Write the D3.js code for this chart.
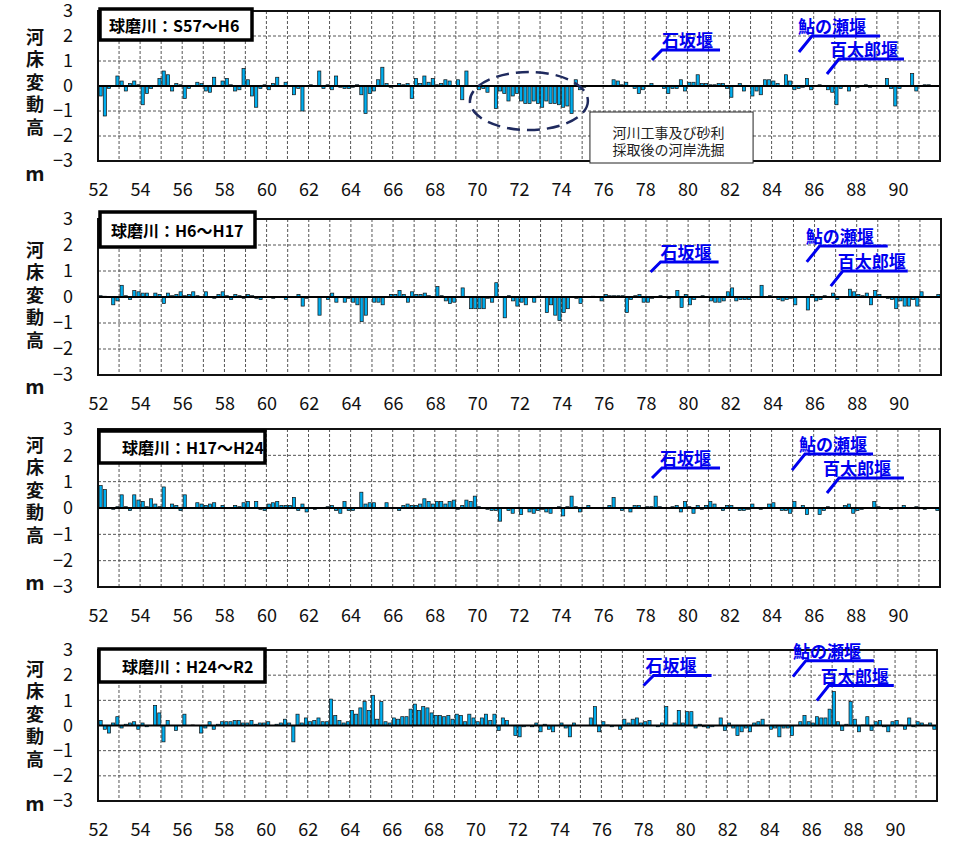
<!DOCTYPE html>
<html>
<head>
<meta charset="utf-8">
<script src="https://cdn.jsdelivr.net/npm/d3@7"></script>
<style>
  body { margin: 0; background: #fff; }
  svg { display: block; }
</style>
</head>
<body>
<svg id="chart" width="955" height="843"></svg>
<script>
// stations every 0.2 km, 52.0 .. 91.8 km
const stations = d3.range(200).map(i => +(52 + i * 0.2).toFixed(1))
const xTicks = [52, 54, 56, 58, 60, 62, 64, 66, 68, 70, 72, 74, 76, 78, 80, 82, 84, 86, 88, 90]
const yTicks = [-3, -2, -1, 0, 1, 2, 3]
const periods = ["球磨川：S57～H6", "球磨川：H6～H17", "球磨川：H17～H24", "球磨川：H24～R2"]
const yTitle = ["河", "床", "変", "動", "高"]

// bed change (m)
const s57h6 = [
  -0.4, -1.2, -0.1, 0, 0.4, 0.2, -0.2, 0.1, 0.2, 0.05,
  -0.75, -0.3, -0.1, 0, 0.3, 0.6, 0.45, -0.2, 0.1, 0.05,
  -0.5, -0.1, 0, 0.15, 0.1, -0.2, -0.25, 0.35, 0, 0.2,
  0.3, 0.05, -0.2, -0.15, 0.7, 0.25, -0.4, -0.85, -0.1, 0.05,
  -0.15, 0.1, 0.35, 0, 0.15, 0, -0.35, -0.1, -1.0, 0,
  0.05, 0, 0.6, -0.1, 0.05, -0.15, 0.4, -0.05, -0.1, -0.1,
  -0.05, 0.05, -0.35, -1.1, -0.3, -0.2, 0.25, 0.75, 0.1, -0.05,
  0, 0.1, 0.05, 0.1, -0.5, 0.3, 0.1, 0.4, 0.15, 0.3,
  0.05, 0.1, 0.25, 0.2, 0, 0.25, -0.55, 0.6, 0, 0,
  -0.15, -0.1, -0.25, 0, -0.9, -0.2, -0.3, -0.6, -0.4, -0.3,
  -0.6, -0.7, -0.7, -0.6, -0.7, -0.85, -0.6, -0.7, -0.7, -0.75,
  -0.85, -0.8, -1.1, 0.25, -0.15, -0.05, 0, 0, 0, 0,
  0, 0, 0.25, 0.2, 0.05, 0.15, 0, -0.1, -0.3, -0.15,
  0, 0.1, 0, 0, -0.1, -0.3, -0.1, -0.1, 0.25, -0.2,
  0.15, 0.15, 0.45, 0.1, 0.1, 0.05, 0.05, 0.1, 0.1, -0.1,
  -0.45, 0, 0.1, -0.2, 0, -0.4, -0.2, -0.35, 0.25, 0.25,
  0.2, 0.1, 0, 0.45, 0.2, -0.15, -0.1, -0.05, 0.3, -0.15,
  0, 0.05, 0, -0.15, -0.25, -0.75, -0.1, 0, -0.2, 0,
  -0.05, 0, 0.05, -0.05, 0, 0, 0, 0.3, -0.1, -0.8,
  -0.1, 0, 0, 0.5, -0.2, 0, 0.05, 0.05, 0, 0
]
const h6h17 = [
  0.05, 0.03, 0, -0.3, -0.15, 0.45, 0.05, -0.1, 0.25, 0.2,
  0.15, 0.15, 0, 0.15, 0.1, -0.25, 0.15, 0.05, 0.1, 0.2,
  0.05, 0.1, 0.2, 0.05, 0, 0.2, 0, -0.05, 0.1, 0.2,
  0.05, -0.1, 0.1, 0.05, -0.05, 0.1, 0.05, -0.05, -0.1, 0,
  0.02, -0.05, 0, 0, -0.1, 0, 0, 0.1, -0.35, -0.05,
  0, 0, -0.7, 0, -0.1, 0.15, -0.2, 0, -0.2, -0.05,
  -0.2, -0.3, -0.95, -0.7, 0, -0.2, -0.2, -0.3, 0, 0.1,
  0.1, 0.25, 0.1, -0.2, 0.2, 0.1, 0.1, 0.15, 0.05, 0,
  0.4, 0.05, -0.15, -0.25, -0.2, 0, 0.35, 0, -0.45, -0.45,
  -0.45, -0.45, -0.05, -0.2, 0.55, 0, -0.8, 0.05, -0.15, -0.35,
  -0.2, -0.3, 0, -0.2, 0.03, 0, -0.6, -0.3, -0.7, -0.9,
  -0.6, -0.45, 0, -0.05, -0.25, 0, 0, 0.03, 0, -0.15,
  0.1, 0.05, 0.05, 0.05, 0.05, -0.6, -0.1, 0.05, 0.1, -0.2,
  -0.2, -0.05, 0, 0.05, 0, -0.05, 0, 0.25, -0.4, 0.1,
  -0.3, -0.1, 0, 0.05, 0, -0.15, -0.2, -0.2, -0.15, 0.2,
  0.35, -0.15, -0.1, -0.1, -0.1, 0, 0, 0.45, 0, 0.05,
  0, -0.1, -0.15, -0.1, -0.05, -0.3, 0, 0, -0.5, 0.1,
  -0.15, -0.1, 0.05, 0, 0.15, -0.1, 0, 0, 0.3, 0.2,
  0.1, 0.05, 0.15, -0.3, 0.25, 0.1, -0.02, -0.05, -0.1, -0.45,
  -0.15, -0.35, -0.35, -0.1, -0.35, 0.2, 0, 0.02, 0, 0.1
]
const h17h24 = [
  0.85, 0.7, 0, -0.05, 0.05, 0.5, 0.05, -0.1, 0.5, 0.3,
  0.25, 0.05, 0.35, 0.15, 0.05, 0.8, 0, 0.15, 0.1, -0.1,
  0.5, 0, 0.02, 0.2, 0.15, 0.1, 0.15, 0.2, 0, 0.1,
  0, 0.02, 0.1, 0.05, 0.2, 0.25, -0.02, 0.25, -0.05, -0.1,
  0.15, 0.2, 0.25, 0.1, 0.1, 0.1, 0.4, -0.1, 0.15, -0.15,
  0, -0.05, 0, -0.02, 0.05, 0.1, -0.1, -0.2, 0.25, -0.1,
  -0.1, 0, 0.6, 0.15, 0.2, 0.2, 0, 0.02, 0.2, 0,
  0, -0.1, 0.1, 0.15, 0.1, 0.1, 0.15, 0.35, 0.25, 0.15,
  0.25, 0.25, 0.15, 0.25, 0.3, -0.05, 0.1, 0.3, 0.25, 0.45,
  0.05, 0, -0.05, -0.1, -0.1, -0.5, 0, -0.1, -0.2, 0.02,
  -0.25, 0.02, -0.15, -0.2, -0.1, -0.05, -0.15, -0.2, 0, 0.05,
  -0.3, 0.05, 0.45, 0.05, -0.15, 0, 0.1, 0.02, 0.02, 0,
  0.02, 0.1, 0.4, 0, -0.1, 0, -0.15, 0.1, 0.1, 0,
  0.05, 0.05, 0.45, 0.05, 0.02, 0, 0.05, 0.1, -0.15, 0.25,
  0.05, -0.2, 0.1, -0.05, 0.1, 0.25, 0.15, 0, -0.1, 0.1,
  0.1, 0, -0.1, -0.1, -0.05, 0.15, 0, -0.05, 0, 0.15,
  0.2, 0, -0.1, -0.1, -0.2, 0.25, 0, 0.1, -0.25, 0,
  0, -0.25, -0.1, 0.05, 0, 0, 0, 0.1, 0.15, -0.2,
  -0.1, -0.05, 0, 0.02, 0.25, 0.05, 0, 0, -0.05, 0,
  0, 0.1, 0, 0, 0.05, 0, -0.05, 0, 0.02, -0.1
]
const h24r2 = [
  0.2, -0.15, -0.3, 0.1, 0.35, -0.1, 0.05, 0.1, 0.15, -0.15,
  0.1, -0.05, 0, 0.8, 0.5, -0.65, 0.2, 0, -0.2, 0,
  0.45, 0, 0.02, 0, -0.3, -0.1, 0.15, -0.15, 0.05, 0.15,
  0.15, 0.15, 0.2, 0.2, 0.1, 0.1, 0.2, 0.05, 0.1, 0.1,
  0.15, 0, 0.05, 0.1, 0.25, 0.1, -0.65, 0.45, 0.1, 0.3,
  0.15, 0.2, 0.3, 0.15, 0.15, 1.05, 0.4, 0.2, 0.1, 0.15,
  0.6, 0.45, 0.7, 0.95, 0.6, 1.2, 0.25, 0.95, 0.15, 0.1,
  0.3, 0.25, 0.35, 0.35, 0.65, 0.85, 0.6, 0.75, 0.7, 0.5,
  0.4, 0.4, 0.35, 0.4, 0.25, 0.45, 0.4, 0.15, 0.45, 0.3,
  0.15, 0.3, 0.45, 0.2, 0.45, -0.2, 0.3, 0.2, 0, -0.4,
  -0.45, -0.05, 0, -0.05, 0.1, -0.25, 0.05, -0.15, -0.25, 0,
  0.1, -0.1, -0.45, 0.1, 0, 0, 0, 0.3, 0.75, -0.25,
  0.15, 0.02, -0.05, 0, -0.15, 0.25, 0.1, 0.25, 0.3, 0.1,
  0.15, 0.2, 0, -0.05, 0.1, 0.75, 0, 0.1, 0.6, 0.1,
  0.55, 0.55, -0.1, 0.05, -0.05, -0.1, -0.05, 0, 0.3, -0.2,
  0.1, -0.1, -0.4, -0.25, -0.1, -0.25, 0.1, 0.15, 0.25, 0,
  -0.15, -0.1, -0.45, -0.1, -0.1, -0.4, 0, 0.15, 0.4, 0.15,
  0.1, 0.35, 0.3, 0.3, 0.65, 1.35, 0.15, -0.2, 0.05, 0.95,
  0.25, -0.25, 0.02, 0.35, -0.2, 0.15, 0.2, -0.05, -0.25, 0.15,
  0.2, 0.02, -0.15, 0.3, -0.05, 0.15, 0.1, 0.02, 0.1, -0.15
]
const series = [s57h6, h6h17, h17h24, h24r2]

// weir labels: anchor of the leader line foot in (km, m) for each period
const weirs = ["石坂堰", "鮎の瀬堰", "百太郎堰"]
const weirKm = [[78.32, 85.30, 86.63], [78.22, 85.63, 86.77], [78.32, 84.97, 86.63], [78.01, 85.13, 86.27]]
const weirM = [[1.04, 1.36, 0.48], [0.96, 1.35, 0.42], [1.14, 1.44, 0.57], [1.59, 1.94, 0.99]]

// note in the first panel
const noteLines = ["河川工事及び砂利", "採取後の河岸洗掘"]
const noteKm = [75.37, 83.12]
const noteM = [-1.04, -3.08]
const ellipseKm = 72.47, ellipseM = -0.6

const font = "'Noto Sans CJK JP', 'Noto Sans', sans-serif"
const blue = "#0000f0"
const barColor = "#00aeef"

// panel layout (px)
const panels = [
  {top: 11,  bottom: 161, right: 940, box: [100, 252, 9, 40],    tx: 109, yt: 36,  my: 172, textDx: [10, -1, 3]},
  {top: 219, bottom: 375, right: 941, box: [100, 255, 212, 247], tx: 111, yt: 249, my: 385, textDx: [10, -1, 7]},
  {top: 429, bottom: 587, right: 940, box: [99, 265, 431, 463],  tx: 122, yt: 444, my: 581, textDx: [8, 7, -4]},
  {top: 650, bottom: 801, right: 937, box: [99, 265, 649, 682],  tx: 122, yt: 668, my: 802, textDx: [2, 0, 4]}
]
const left = 98
// leader shape per weir: [dx, dy, underline length]
const leader = [[10, -10, 58], [13, -16, 68], [12, -15, 65]]

const svg = d3.select("#chart")

panels.forEach((p, k) => {
  const g = svg.append("g")
  const x = d3.scaleLinear().domain([52, 92]).range([left, p.right])
  const xb = d3.scaleBand().domain(stations).range([left, p.right]).padding(0.25)
  const y = d3.scaleLinear().domain([-3, 3]).range([p.bottom, p.top])

  // grid
  g.append("g").selectAll("line")
    .data(d3.range(53, 92))
    .join("line")
      .attr("x1", d => x(d)).attr("x2", d => x(d))
      .attr("y1", p.top).attr("y2", p.bottom)
      .attr("stroke", "#555").attr("stroke-width", 1)
      .attr("stroke-dasharray", "3,2")
  g.append("g").selectAll("line")
    .data([-2, -1, 1, 2])
    .join("line")
      .attr("x1", left).attr("x2", p.right)
      .attr("y1", d => y(d)).attr("y2", d => y(d))
      .attr("stroke", "#555").attr("stroke-width", 1)
      .attr("stroke-dasharray", "3,2")

  // bars
  g.append("g").selectAll("rect")
    .data(series[k])
    .join("rect")
      .attr("x", (d, i) => xb(stations[i]))
      .attr("width", xb.bandwidth())
      .attr("y", d => y(Math.max(0, d)))
      .attr("height", d => Math.abs(y(d) - y(0)))
      .attr("fill", barColor)
      .attr("stroke", "#111")
      .attr("stroke-width", 0.7)

  // zero line + frame
  g.append("line")
    .attr("x1", left).attr("x2", p.right)
    .attr("y1", y(0)).attr("y2", y(0))
    .attr("stroke", "#000").attr("stroke-width", 2)
  g.append("rect")
    .attr("x", left).attr("y", p.top)
    .attr("width", p.right - left).attr("height", p.bottom - p.top)
    .attr("fill", "none").attr("stroke", "#111").attr("stroke-width", 2)

  // axes (labels only)
  const xAxis = g.append("g")
    .attr("transform", "translate(0," + p.bottom + ")")
    .call(d3.axisBottom(x).tickValues(xTicks).tickSize(0).tickPadding(22).tickFormat(d3.format("d")))
  const yAxis = g.append("g")
    .attr("transform", "translate(" + left + ",0)")
    .call(d3.axisLeft(y).tickValues(yTicks).tickSize(0).tickPadding(25).tickFormat(d3.format("d")))
  ;[xAxis, yAxis].forEach(a => {
    a.select(".domain").remove()
    a.selectAll("text")
      .attr("font-family", font)
      .attr("font-size", 18)
      .attr("fill", "#111")
  })

  // y title, written vertically
  g.append("g").selectAll("text")
    .data(yTitle)
    .join("text")
      .attr("x", 35)
      .attr("y", (d, i) => p.yt + i * 22.4)
      .attr("text-anchor", "middle")
      .attr("dominant-baseline", "central")
      .attr("font-family", font)
      .attr("font-weight", "bold")
      .attr("font-size", 18)
      .attr("fill", "#111")
      .text(d => d)
  g.append("text")
    .attr("x", 35).attr("y", p.my)
    .attr("text-anchor", "middle")
    .attr("dominant-baseline", "central")
    .attr("font-family", font)
    .attr("font-weight", "bold")
    .attr("font-size", 20)
    .attr("fill", "#111")
    .text("m")

  // period title box
  g.append("rect")
    .attr("x", p.box[0]).attr("y", p.box[2])
    .attr("width", p.box[1] - p.box[0]).attr("height", p.box[3] - p.box[2])
    .attr("fill", "#fff").attr("stroke", "#000").attr("stroke-width", 3.5)
  g.append("text")
    .attr("x", p.tx).attr("y", (p.box[2] + p.box[3]) / 2)
    .attr("dominant-baseline", "central")
    .attr("font-family", font)
    .attr("font-weight", "bold")
    .attr("font-size", 16)
    .attr("fill", "#000")
    .text(periods[k])

  // weir labels
  weirs.forEach((w, j) => {
    const x0 = x(weirKm[k][j]), y0 = y(weirM[k][j])
    const [dx, dy, len] = leader[j]
    g.append("path")
      .attr("d", "M" + x0 + "," + y0 + "L" + (x0 + dx) + "," + (y0 + dy) + "H" + (x0 + dx + len))
      .attr("fill", "none")
      .attr("stroke", blue)
      .attr("stroke-width", 3)
    g.append("text")
      .attr("x", x0 + p.textDx[j])
      .attr("y", y0 + dy - 3)
      .attr("font-family", font)
      .attr("font-weight", "bold")
      .attr("font-size", 17)
      .attr("fill", blue)
      .text(w)
  })

  if (k === 0) {
    g.append("ellipse")
      .attr("cx", x(ellipseKm)).attr("cy", y(ellipseM))
      .attr("rx", 59).attr("ry", 29)
      .attr("fill", "none")
      .attr("stroke", "#1f2a5e")
      .attr("stroke-width", 2.5)
      .attr("stroke-dasharray", "13,7")
    g.append("rect")
      .attr("x", x(noteKm[0])).attr("y", y(noteM[0]))
      .attr("width", x(noteKm[1]) - x(noteKm[0]))
      .attr("height", y(noteM[1]) - y(noteM[0]))
      .attr("fill", "#fff").attr("stroke", "#222").attr("stroke-width", 1)
    g.append("g").selectAll("text")
      .data(noteLines)
      .join("text")
        .attr("x", (x(noteKm[0]) + x(noteKm[1])) / 2 - 3)
        .attr("y", (d, i) => y(noteM[0]) + 20 + i * 16.5)
        .attr("text-anchor", "middle")
        .attr("dominant-baseline", "central")
        .attr("font-family", font)
        .attr("font-size", 14)
        .attr("fill", "#222")
        .text(d => d)
  }
})
</script>
</body>
</html>
